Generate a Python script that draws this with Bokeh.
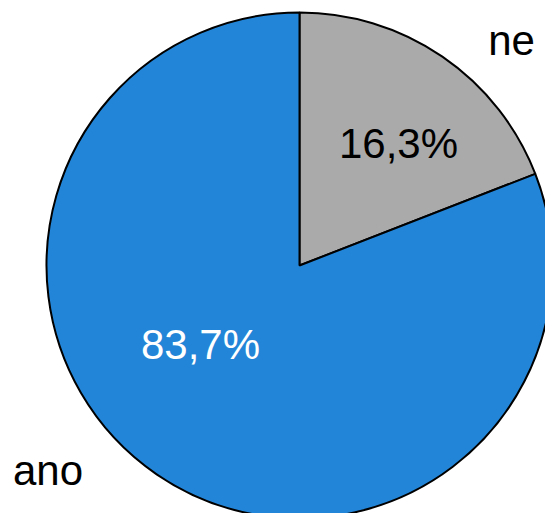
import math
from bokeh.plotting import figure
from bokeh.models import Range1d, ColumnDataSource
from bokeh.core.properties import value
from bokeh.embed import file_html
from bokeh.resources import INLINE

# data
categories = ["ne", "ano"]
shares = [19.1, 80.9]          # slice sizes as drawn
pct_labels = ["16,3%", "83,7%"]
colors = ["#aaaaaa", "#2385d7"]

W, H = 545, 513
p = figure(width=W, height=H, output_backend="svg", toolbar_location=None,
           x_range=Range1d(0, W), y_range=Range1d(0, H), min_border=0)
p.axis.visible = False
p.grid.visible = False
p.outline_line_color = None
p.background_fill_color = "white"

cx, cy, r = 299, 248, 253
total = sum(shares)
starts, ends = [], []
a = math.pi / 2
for s in shares:
    starts.append(a)
    a -= 2 * math.pi * s / total
    ends.append(a)

src = ColumnDataSource(dict(start=starts, end=ends, color=colors))
p.wedge(x=cx, y=cy, radius=r, start_angle="start", end_angle="end",
        direction="clock", fill_color="color", line_color="black",
        line_width=2, source=src)

# percentage labels
pct_x = [398, 200]
pct_y = [370, 169]
pct_colors = ["black", "white"]
p.text(x=pct_x, y=pct_y, text=pct_labels, text_color=pct_colors,
       text_font=value("Liberation Sans"), text_font_size="42px",
       text_align="center", text_baseline="alphabetic")

# category labels
cat_x = [511, 47.5]
cat_y = [473, 43]
p.text(x=cat_x, y=cat_y, text=categories, text_color="black",
       text_font=value("Liberation Sans"), text_font_size="42px",
       text_align="center", text_baseline="alphabetic")

open("out.html", "w").write(file_html(p, INLINE))
